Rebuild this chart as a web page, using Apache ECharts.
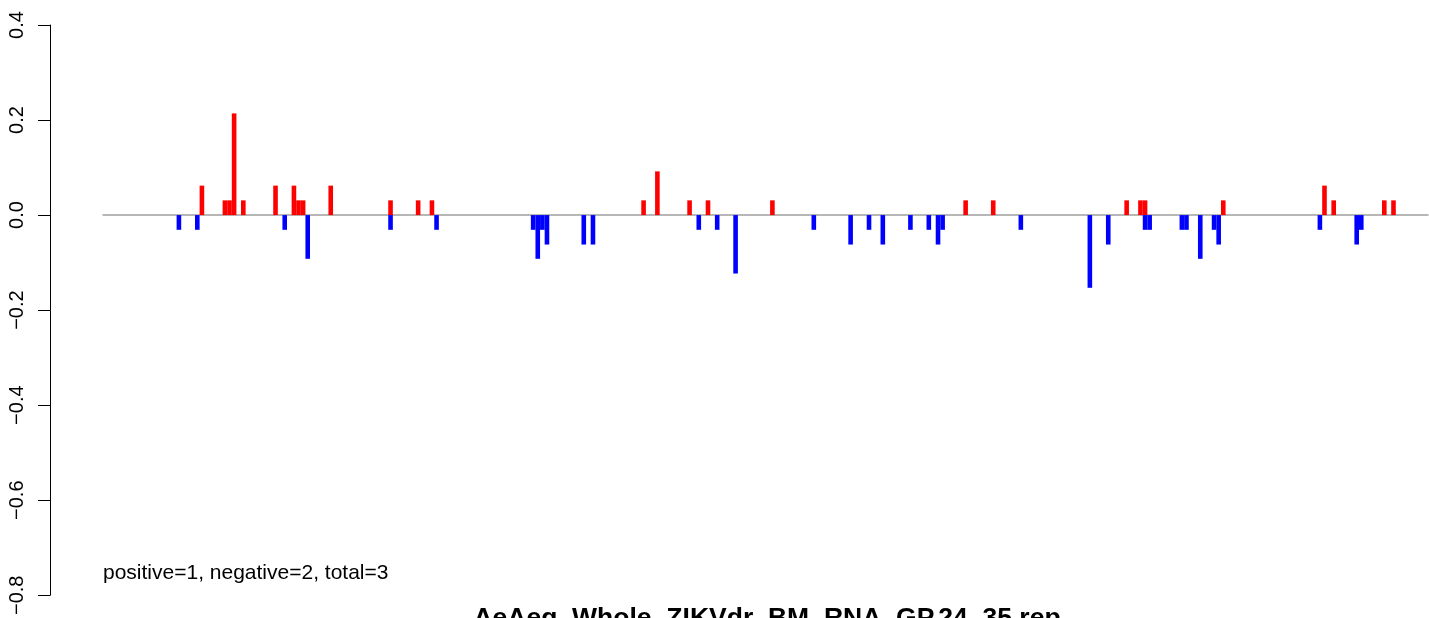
<!DOCTYPE html>
<html>
<head>
<meta charset="utf-8">
<script src="https://cdn.jsdelivr.net/npm/echarts@6/dist/echarts.min.js"></script>
<style>
html,body{margin:0;padding:0;background:#fff;}
#chart{width:1429px;height:618px;}
</style>
</head>
<body>
<div id="chart"></div>
<script>
// Number of position slots along the x axis
const slotCount = 288;
// Positive (red) bars: slot index and value
const posIdx = [21, 26, 27, 28, 30, 37, 41, 42, 43, 49, 62, 68, 71, 117, 120, 127, 131, 145, 187, 193, 222, 225, 226, 243, 265, 267, 278, 280];
const posVal = [0.062, 0.031, 0.031, 0.214, 0.031, 0.062, 0.062, 0.031, 0.031, 0.062, 0.031, 0.031, 0.031, 0.031, 0.092, 0.031, 0.031, 0.031, 0.031, 0.031, 0.031, 0.031, 0.031, 0.031, 0.062, 0.031, 0.031, 0.031];
// Negative (blue) bars: slot index and value
const negIdx = [16, 20, 39, 44, 62, 72, 93, 94, 95, 96, 104, 106, 129, 133, 137, 154, 162, 166, 169, 175, 179, 181, 182, 199, 214, 218, 226, 227, 234, 235, 238, 241, 242, 264, 272, 273];
const negVal = [-0.031, -0.031, -0.031, -0.092, -0.031, -0.031, -0.031, -0.092, -0.031, -0.062, -0.062, -0.062, -0.031, -0.031, -0.123, -0.031, -0.062, -0.031, -0.062, -0.031, -0.031, -0.062, -0.031, -0.031, -0.153, -0.062, -0.031, -0.031, -0.031, -0.031, -0.092, -0.031, -0.062, -0.031, -0.062, -0.031];
// Y axis ticks
const yTicks = [-0.8, -0.6, -0.4, -0.2, 0.0, 0.2, 0.4];
const statText = 'positive=1, negative=2, total=3';
const titleText = 'AeAeg_Whole_ZIKVdr_BM_RNA_GP.24_35.rep';

const categories = [];
for (let i = 0; i < slotCount; i++) categories.push(String(i));
const posData = new Array(slotCount).fill(null);
posIdx.forEach((p, k) => { posData[p] = posVal[k]; });
const negData = new Array(slotCount).fill(null);
negIdx.forEach((p, k) => { negData[p] = negVal[k]; });

const chart = echarts.init(document.getElementById('chart'), null, {renderer: 'canvas'});
const font = '"Liberation Sans", Arial, Helvetica, sans-serif';
chart.setOption({
  animation: false,
  backgroundColor: '#ffffff',
  grid: {left: 103, width: 1325, top: 25, height: 572, containLabel: false},
  xAxis: {
    type: 'category',
    data: categories,
    axisLine: {show: true, onZero: true, lineStyle: {color: '#a0a0a0', width: 1.5}},
    axisTick: {show: false},
    axisLabel: {show: false},
    splitLine: {show: false},
    z: 1
  },
  yAxis: {
    type: 'value',
    min: yTicks[0],
    max: yTicks[yTicks.length - 1],
    interval: 0.2,
    offset: 53,
    axisLine: {show: true, lineStyle: {color: '#000', width: 1}},
    axisTick: {show: true, length: 12, lineStyle: {color: '#000', width: 1}},
    splitLine: {show: false},
    axisLabel: {
      rotate: 90,
      margin: 23,
      fontSize: 20,
      fontFamily: font,
      color: '#000',
      formatter: v => v.toFixed(1).replace('-', '\u2212')
    }
  },
  series: [
    {
      type: 'bar',
      data: posData,
      barWidth: '100%',
      barGap: '-100%',
      barCategoryGap: '0%',
      itemStyle: {color: '#ff0000'},
      z: 3
    },
    {
      type: 'bar',
      data: negData,
      barWidth: '100%',
      barGap: '-100%',
      barCategoryGap: '0%',
      itemStyle: {color: '#0000ff'},
      z: 3
    }
  ],
  graphic: [
    {
      type: 'text', left: 103, top: 563,
      style: {text: statText, font: '21px ' + font, fill: '#000'}
    },
    {
      type: 'text', x: 767, y: 605,
      style: {text: titleText, font: 'bold 26.5px ' + font, fill: '#000', align: 'center', verticalAlign: 'top'}
    }
  ]
});
</script>
</body>
</html>
